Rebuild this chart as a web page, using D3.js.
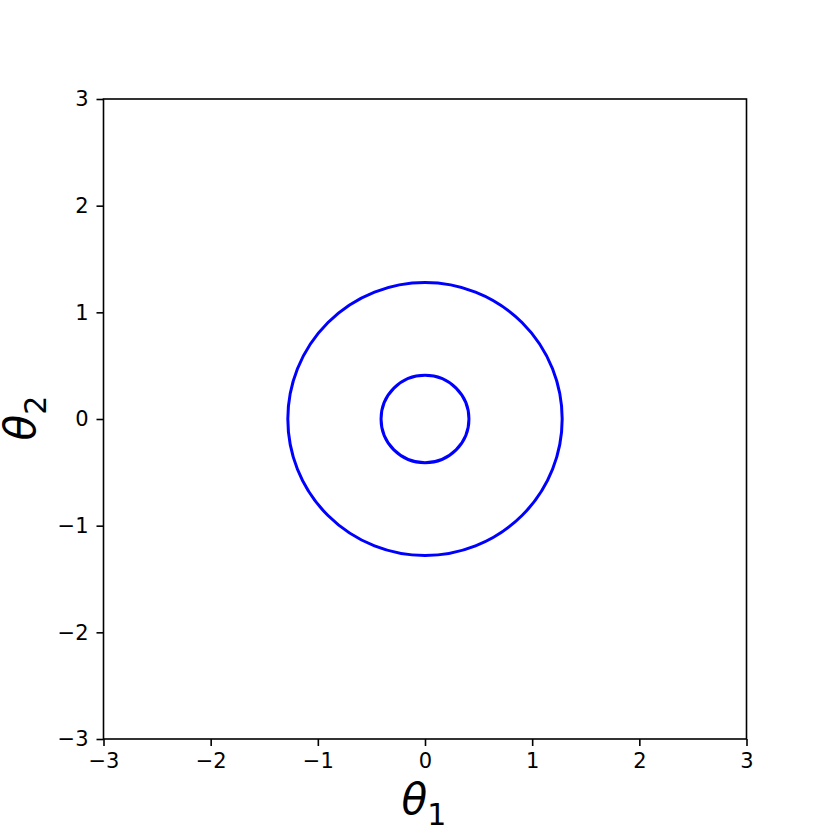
<!DOCTYPE html>
<html>
<head>
<meta charset="utf-8">
<script src="https://cdn.jsdelivr.net/npm/d3@7"></script>
<style>
  html, body { margin: 0; padding: 0; background: #fff; }
  svg { display: block; }
</style>
</head>
<body>
<svg id="chart" width="830" height="830"></svg>
<script>
// ---- data ----
const xDomain = [-3, 3];
const yDomain = [-3, 3];
const xTicks = [-3, -2, -1, 0, 1, 2, 3];
const yTicks = [-3, -2, -1, 0, 1, 2, 3];
const contourCenters = [[0, 0], [0, 0]];
const contourRadii = [0.41, 1.28];
const xLabel = "θ";
const xLabelSub = "1";
const yLabel = "θ";
const yLabelSub = "2";

// ---- layout ----
const svg = d3.select("#chart");
const pLeft = 103.5, pRight = 746.5, pTop = 99, pBottom = 739;
const x = d3.scaleLinear().domain(xDomain).range([pLeft, pRight]);
const y = d3.scaleLinear().domain(yDomain).range([pBottom, pTop]);

const font = "'DejaVu Sans', sans-serif";

// contours
svg.append("g")
  .selectAll("ellipse")
  .data(contourRadii)
  .join("ellipse")
  .attr("cx", (d, i) => x(contourCenters[i][0]))
  .attr("cy", (d, i) => y(contourCenters[i][1]))
  .attr("rx", d => x(d) - x(0))
  .attr("ry", d => y(0) - y(d))
  .attr("fill", "none")
  .attr("stroke", "#0000ff")
  .attr("stroke-width", 3);

// frame
svg.append("rect")
  .attr("x", pLeft).attr("y", pTop)
  .attr("width", pRight - pLeft).attr("height", pBottom - pTop)
  .attr("fill", "none").attr("stroke", "#000").attr("stroke-width", 1.6);

const fmt = d3.format("d");

const gx = svg.append("g")
  .attr("transform", `translate(0,${pBottom})`)
  .call(d3.axisBottom(x).tickValues(xTicks).tickFormat(fmt).tickSize(7).tickPadding(7));
const gy = svg.append("g")
  .attr("transform", `translate(${pLeft},0)`)
  .call(d3.axisLeft(y).tickValues(yTicks).tickFormat(fmt).tickSize(7).tickPadding(8));

[gx, gy].forEach(g => {
  g.select(".domain").remove();
  g.selectAll(".tick line").attr("stroke", "#000").attr("stroke-width", 1.6);
  g.selectAll(".tick text")
    .attr("font-family", font)
    .attr("font-size", 21)
    .attr("fill", "#000");
});

// x label
const xl = svg.append("text")
  .attr("x", 424).attr("y", 814)
  .attr("text-anchor", "middle")
  .attr("font-family", font)
  .attr("font-size", 42)
  .attr("fill", "#000");
xl.append("tspan").attr("font-style", "italic").text(xLabel);
xl.append("tspan").attr("font-size", 30).attr("dy", 11).text(xLabelSub);

// y label
const yl = svg.append("text")
  .attr("transform", `translate(35,418) rotate(-90)`)
  .attr("text-anchor", "middle")
  .attr("font-family", font)
  .attr("font-size", 42)
  .attr("fill", "#000");
yl.append("tspan").attr("font-style", "italic").text(yLabel);
yl.append("tspan").attr("font-size", 30).attr("dy", 11).text(yLabelSub);
</script>
</body>
</html>
